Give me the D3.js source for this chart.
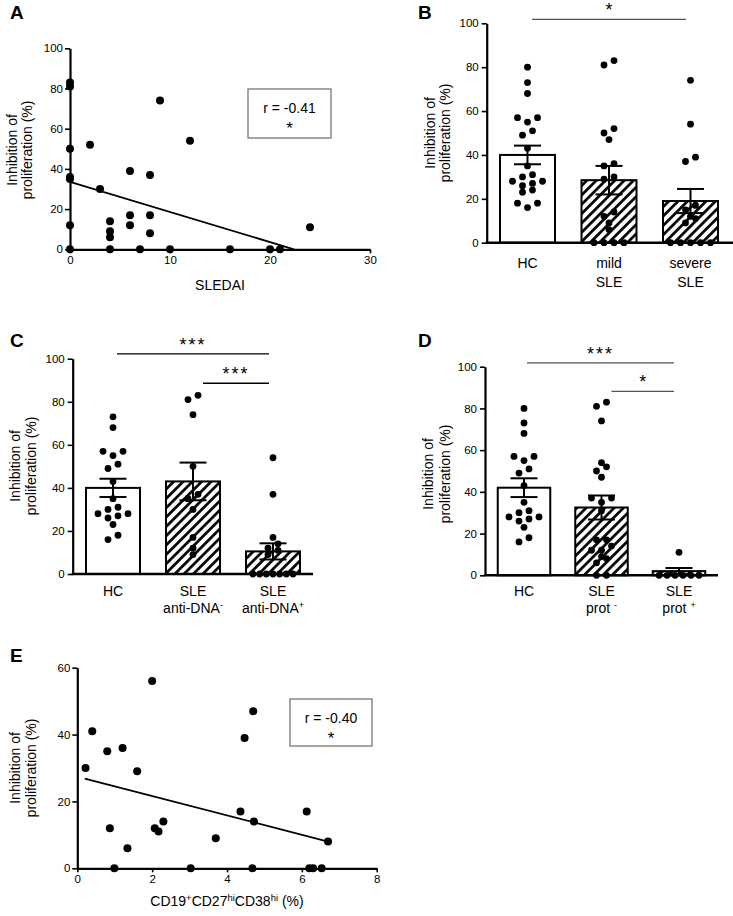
<!DOCTYPE html>
<html><head><meta charset="utf-8">
<script src="https://cdn.jsdelivr.net/npm/d3@7"></script>
<style>
body{margin:0;background:#fff}
svg{display:block}
text{font-family:"Liberation Sans",Arial,Helvetica,sans-serif;fill:#000}
</style>
</head><body>
<svg id="c" width="733" height="916"></svg>
<script>
// ---------------- DATA ----------------
// Panel A: SLEDAI vs inhibition
const aSledai = [0,0,0,0,0,0,0,2,3,4,4,4,4,6,6,6,7,8,8,8,9,10,12,16,20,21,24];
const aInhib  = [83,81,50,36,35,12,0,52,30,14,9,6,0,39,17,12,0,37,17,8,74,0,54,0,0,0,11];
const aRegX = [0, 22.4];
const aRegY = [33.6, 0];
const aR = "r = -0.41";
const aXTicks = [0,10,20,30];
const pctTicks = [0,20,40,60,80,100];

// Panel B
const bCats = ["HC","mild SLE","severe SLE"];
const bLabels = [["HC"],["mild","SLE"],["severe","SLE"]];
const bMean = [40,28.5,19];
const bSem = [4.25,6.5,5.5];
const bHC = [80,73,68,57,55,57,51,49,43,35,30,31,27,28,28,26,24,23,18,18,16];
const bMild = [83,81,52,50,47,36,35,30,29,14,12,9,6,0,0,0,0];
const bSevere = [74,54,39,37,17,15,12,11,9,0,0,0,0,0];

// Panel C
const cCats = ["HC","SLE anti-DNA-","SLE anti-DNA+"];
const cLabels = [["HC"],["SLE","anti-DNA{-}"],["SLE","anti-DNA{+}"]];
const cMean = [40,43,10.5];
const cSem = [4.25,8.75,3.75];
const cHC = [73,68,57,55,57,51,49,43,35,30,31,28,28,26,27,23,18,16];
const cNeg = [83,81,74,50,37,35,30,17,12,9];
const cPos = [54,37,17,14,12,11,9,0,0,0,0,0,0,0];

// Panel D
const dCats = ["HC","SLE prot-","SLE prot+"];
const dLabels = [["HC"],["SLE","prot {-}"],["SLE","prot {+}"]];
const dMean = [42,32.5,2];
const dSem = [4.5,5.75,1.5];
const dHC = [80,73,68,57,55,57,51,49,43,35,30,31,26,28,28,27,23,18,16];
const dNeg = [83,81,74,54,52,50,47,37,37,35,31,17,17,14,12,12,9,8,6,0,0];
const dPos = [11,0,0,0,0,0,0];

// Panel E
const eCD = [0.22,0.4,0.8,1.21,0.87,0.99,1.34,1.6,2.0,2.07,2.17,2.3,3.03,3.7,4.36,4.47,4.7,4.72,4.68,6.13,6.2,6.3,6.53,6.7];
const eInhib = [30,41,35,36,12,0,6,29,56,12,11,14,0,9,17,39,47,14,0,17,0,0,0,8];
const eRegX = [0.2, 6.7];
const eRegY = [26.8, 8];
const eR = "r = -0.40";
const eXTicks = [0,2,4,6,8];
const eYTicks = [0,20,40,60];

// ---------------- HELPERS ----------------
const svg = d3.select("#c");
const defs = svg.append("defs");
const pat = defs.append("pattern").attr("id","hatch").attr("patternUnits","userSpaceOnUse")
  .attr("width",6.6).attr("height",6.6).attr("patternTransform","rotate(45)");
pat.append("rect").attr("width",6.6).attr("height",6.6).attr("fill","#fff");
pat.append("line").attr("x1",1.4).attr("x2",1.4).attr("y1",-1).attr("y2",8)
  .attr("stroke","#000").attr("stroke-width",2.7);

function rich(textSel, str, supSize, lift){
  let raised = false;
  str.split(/(\{[^}]*\})/).filter(s=>s.length).forEach(part=>{
    if(part[0]==="{"){
      textSel.append("tspan").attr("dy", raised?0:-lift).attr("font-size",supSize).text(part.slice(1,-1));
      raised = true;
    } else {
      textSel.append("tspan").attr("dy", raised?lift:0).text(part);
      raised = false;
    }
  });
}

function styleAxis(g, w){
  g.select(".domain").attr("stroke","#000").attr("stroke-width",w||2);
  g.selectAll(".tick line").attr("stroke","#000").attr("stroke-width",1.6);
  g.selectAll(".tick text").attr("font-size",11.5).attr("fill","#000")
    .attr("font-family","Liberation Sans, Arial, sans-serif");
}

function panelLabel(x,y,t){
  svg.append("text").attr("x",x).attr("y",y).attr("font-size",19).attr("font-weight","bold").text(t);
}

function yTitle(x1,x2,yc){
  svg.append("text").attr("transform",`translate(${x1},${yc}) rotate(-90)`).attr("text-anchor","middle")
    .attr("font-size",14).text("Inhibition of");
  svg.append("text").attr("transform",`translate(${x2},${yc}) rotate(-90)`).attr("text-anchor","middle")
    .attr("font-size",14).text("proliferation (%)");
}

function swarm(vals, y, spacing, maxSpan, thr){
  const idx = vals.map((v,i)=>i).sort((a,b)=>vals[a]-vals[b]);
  const off = new Array(vals.length).fill(0);
  let row = [];
  const flush = ()=>{
    const n = row.length; if(!n) return;
    const sp = n>1 ? Math.min(spacing, maxSpan/(n-1)) : spacing;
    row.forEach((i,k)=>{
      let o;
      if(n%2===1){ const m = Math.ceil(k/2); o = (k===0?0:(k%2===1?-m:m)); }
      else { const m = Math.floor(k/2)+0.5; o = (k%2===0?-m:m); }
      off[i] = o*sp;
    });
    row = [];
  };
  idx.forEach(i=>{
    if(row.length && Math.abs(y(vals[i]) - y(vals[row[0]])) > thr) flush();
    row.push(i);
  });
  flush();
  return off;
}

function scatterPanel(o){
  const x = d3.scaleLinear().domain(o.xDom).range(o.xRange);
  const y = d3.scaleLinear().domain(o.yDom).range(o.yRange);
  const gx = svg.append("g").attr("transform",`translate(0,${o.yRange[0]})`)
    .call(d3.axisBottom(x).tickValues(o.xTicks).tickSize(4).tickSizeOuter(0).tickPadding(3));
  styleAxis(gx, 2.2);
  const gy = svg.append("g").attr("transform",`translate(${o.xRange[0]},0)`)
    .call(d3.axisLeft(y).tickValues(o.yTicks).tickSize(5).tickSizeOuter(0).tickPadding(2));
  styleAxis(gy, 2.2);
  svg.append("line").attr("x1",x(o.regX[0])).attr("y1",y(o.regY[0]))
    .attr("x2",x(o.regX[1])).attr("y2",y(o.regY[1])).attr("stroke","#000").attr("stroke-width",1.8);
  svg.append("g").selectAll("circle").data(o.xs).join("circle")
    .attr("cx",(d)=>x(d)).attr("cy",(d,i)=>y(o.ys[i])).attr("r",4).attr("fill","#000");
  // r box
  const b = o.box;
  svg.append("rect").attr("x",b[0]).attr("y",b[1]).attr("width",b[2]).attr("height",b[3])
    .attr("fill","none").attr("stroke","#777").attr("stroke-width",1.3);
  svg.append("text").attr("x",b[0]+b[2]/2).attr("y",b[1]+24).attr("text-anchor","middle")
    .attr("font-size",14).text(o.r);
  svg.append("text").attr("x",b[0]+b[2]/2).attr("y",b[1]+45).attr("text-anchor","middle")
    .attr("font-size",17).text("*");
  const xt = svg.append("text").attr("x",(o.xRange[0]+o.xRange[1])/2).attr("y",o.xTitleY)
    .attr("text-anchor","middle").attr("font-size",14);
  rich(xt, o.xTitle, 9.5, 5);
}

function barPanel(o){
  const y = d3.scaleLinear().domain([0,100]).range(o.yRange);
  const x = d3.scalePoint().domain(o.cats).range(o.centers);
  const gy = svg.append("g").attr("transform",`translate(${o.axisX},0)`)
    .call(d3.axisLeft(y).tickValues(pctTicks).tickSize(5).tickSizeOuter(0).tickPadding(3));
  styleAxis(gy, 2.2);
  const w = o.barW;
  o.cats.forEach((c,i)=>{
    svg.append("rect").attr("x",x(c)-w/2).attr("y",y(o.mean[i])).attr("width",w)
      .attr("height",y(0)-y(o.mean[i])).attr("fill",o.hatch[i]?"url(#hatch)":"#fff")
      .attr("stroke","#000").attr("stroke-width",2);
  });
  o.cats.forEach((c,i)=>{
    const vals = o.points[i];
    const off = swarm(vals, y, 10, 40, 6);
    svg.append("g").selectAll("circle").data(vals).join("circle")
      .attr("cx",(d,k)=>x(c)+off[k]).attr("cy",d=>y(d)).attr("r",3.4).attr("fill","#000");
  });
  o.cats.forEach((c,i)=>{
    const lo = Math.max(0,o.mean[i]-o.sem[i]), hi = o.mean[i]+o.sem[i];
    const g = svg.append("g").attr("stroke","#000").attr("stroke-width",2);
    g.append("line").attr("x1",x(c)).attr("x2",x(c)).attr("y1",y(lo)).attr("y2",y(hi));
    g.append("line").attr("x1",x(c)-13.5).attr("x2",x(c)+13.5).attr("y1",y(hi)).attr("y2",y(hi));
    g.append("line").attr("x1",x(c)-13.5).attr("x2",x(c)+13.5).attr("y1",y(lo)).attr("y2",y(lo));
  });
  svg.append("line").attr("x1",o.axisX-1).attr("x2",o.xEnd).attr("y1",y(0)).attr("y2",y(0))
    .attr("stroke","#000").attr("stroke-width",2.5);
  o.cats.forEach((c,i)=>{
    o.labels[i].forEach((ln,k)=>{
      const t = svg.append("text").attr("x",x(c)).attr("y",o.labelY + k*o.labelDy)
        .attr("text-anchor","middle").attr("font-size",14);
      rich(t, ln, 9, 5);
    });
  });
  o.sig.forEach(s=>{
    svg.append("line").attr("x1",x(o.cats[s.from])+s.dx1).attr("x2",x(o.cats[s.to])+s.dx2)
      .attr("y1",y(s.level)).attr("y2",y(s.level)).attr("stroke",o.sigColor).attr("stroke-width",1.3);
    svg.append("text").attr("x",(x(o.cats[s.from])+s.dx1+x(o.cats[s.to])+s.dx2)/2)
      .attr("y",y(s.level)-3).attr("text-anchor","middle").attr("font-size",18)
      .attr("letter-spacing", s.stars.length>1?"2px":"0px").text(s.stars);
  });
}

// ---------------- PANELS ----------------
panelLabel(10,19,"A");
yTitle(17,32,150);
scatterPanel({xDom:[0,30], xRange:[70,370], yDom:[0,100], yRange:[249.3,48.3],
  xTicks:aXTicks, yTicks:pctTicks, xs:aSledai, ys:aInhib, regX:aRegX, regY:aRegY,
  box:[248,89,83,49], r:aR, xTitle:"SLEDAI", xTitleY:290});

panelLabel(418,19,"B");
yTitle(435,450,133);
barPanel({cats:bCats, labels:bLabels, mean:bMean, sem:bSem, points:[bHC,bMild,bSevere],
  hatch:[false,true,true], yRange:[242.7,23.3], centers:[527.5,690.5], axisX:486.7, barW:55,
  xEnd:733, labelY:268, labelDy:19, sigColor:"#555",
  sig:[{from:0,to:2,dx1:4.5,dx2:-4.5,level:101.8,stars:"*"}]});

panelLabel(10,347,"C");
yTitle(20,36,466);
barPanel({cats:cCats, labels:cLabels, mean:cMean, sem:cSem, points:[cHC,cNeg,cPos],
  hatch:[false,true,true], yRange:[574,358.7], centers:[113,273], axisX:72.7, barW:54,
  xEnd:313, labelY:596, labelDy:17, sigColor:"#000",
  sig:[{from:0,to:2,dx1:4,dx2:-4,level:102.2,stars:"***"},
       {from:1,to:2,dx1:10,dx2:-4,level:88.6,stars:"***"}]});

panelLabel(418,347,"D");
yTitle(433,450,474);
barPanel({cats:dCats, labels:dLabels, mean:dMean, sem:dSem, points:[dHC,dNeg,dPos],
  hatch:[false,true,true], yRange:[575.3,366.7], centers:[524,679], axisX:485, barW:52.5,
  xEnd:718, labelY:596, labelDy:17, sigColor:"#555",
  sig:[{from:0,to:2,dx1:3,dx2:-5,level:101.8,stars:"***"},
       {from:1,to:2,dx1:10,dx2:-5,level:88.2,stars:"*"}]});

panelLabel(10,662,"E");
yTitle(20,36,768);
scatterPanel({xDom:[0,8], xRange:[77.3,376.7], yDom:[0,60], yRange:[868.3,667.7],
  xTicks:eXTicks, yTicks:eYTicks, xs:eCD, ys:eInhib, regX:eRegX, regY:eRegY,
  box:[290,699,82,47], r:eR, xTitle:"CD19{+}CD27{hi}CD38{hi} (%)", xTitleY:906});
</script>
</body></html>
